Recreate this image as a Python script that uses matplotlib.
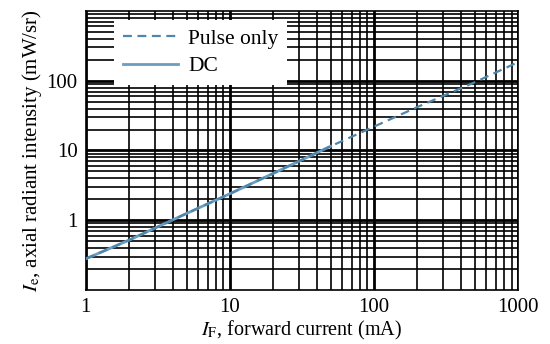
import numpy as np
import matplotlib
matplotlib.use('Agg')
import matplotlib.pyplot as plt
from matplotlib.ticker import FixedLocator, LogLocator, NullFormatter, FixedFormatter

# values
pulse_current = [1, 2, 5, 10, 20, 50, 100, 200, 500, 1000]
pulse_intensity = [0.28, 0.52, 1.25, 2.4, 4.7, 11.5, 22, 42, 95, 185]
dc_current = [1, 2, 5, 10, 20, 50]
dc_intensity = [0.28, 0.52, 1.25, 2.4, 4.7, 11.5]

x_ticks = [1, 10, 100, 1000]
x_tick_labels = ['1', '10', '100', '1000']
y_ticks = [1, 10, 100]
y_tick_labels = ['1', '10', '100']


def main():
    plt.rcParams['font.family'] = ['Liberation Serif', 'DejaVu Serif']
    plt.rcParams['mathtext.fontset'] = 'stix'

    fig = plt.figure(figsize=(5.5, 3.44), dpi=100)
    ax = fig.add_axes([0.156, 0.157, 0.786, 0.811])
    ax.set_xscale('log')
    ax.set_yscale('log')
    ax.set_xlim(1, 1000)
    ax.set_ylim(0.1, 1000)

    line_color = '#6a9dc0'
    ax.plot(dc_current, dc_intensity, color=line_color, lw=2.0, label='DC', zorder=3)
    ax.plot(pulse_current, pulse_intensity, color='#4f86ab', lw=1.6,
            ls=(0, (4, 2.5)), label='Pulse only', zorder=4)

    ax.xaxis.set_major_locator(FixedLocator(x_ticks))
    ax.xaxis.set_major_formatter(FixedFormatter(x_tick_labels))
    ax.yaxis.set_major_locator(FixedLocator(y_ticks))
    ax.yaxis.set_major_formatter(FixedFormatter(y_tick_labels))
    ax.xaxis.set_minor_locator(LogLocator(base=10, subs=np.arange(2, 10)))
    ax.yaxis.set_minor_locator(LogLocator(base=10, subs=np.arange(2, 10)))
    ax.xaxis.set_minor_formatter(NullFormatter())
    ax.yaxis.set_minor_formatter(NullFormatter())

    ax.grid(True, which='major', color='black', lw=2.0)
    ax.grid(True, which='minor', color='black', lw=1.2)
    ax.set_axisbelow(True)

    ax.tick_params(which='both', length=0, labelsize=15, pad=6)
    for s in ax.spines.values():
        s.set_color('black')
        s.set_linewidth(1.2)

    ax.set_xlabel(r'$I_{\mathrm{F}}$, forward current (mA)', fontsize=14.5, labelpad=1)
    ax.set_ylabel(r'$I_{\mathrm{e}}$, axial radiant intensity (mW/sr)', fontsize=15, labelpad=2)

    handles, labels = ax.get_legend_handles_labels()
    leg = ax.legend(handles[::-1], labels[::-1], loc='upper left',
                    bbox_to_anchor=(0.065, 0.968), fontsize=15.5, frameon=True,
                    fancybox=False, framealpha=1.0, edgecolor='white',
                    handlelength=2.6, handletextpad=0.45, borderpad=0.4,
                    labelspacing=0.35, borderaxespad=0)
    leg.get_frame().set_linewidth(0)

    fig.savefig('out.png', dpi=100)


if __name__ == '__main__':
    main()
